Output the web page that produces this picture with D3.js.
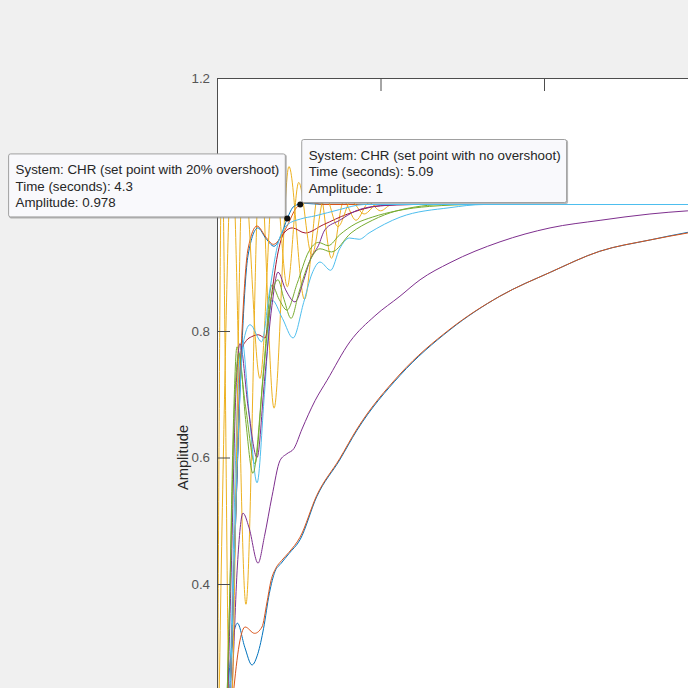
<!DOCTYPE html>
<html>
<head>
<meta charset="utf-8">
<script src="https://cdn.jsdelivr.net/npm/d3@7"></script>
<style>
  html, body { margin: 0; padding: 0; background: #f0f0f0; }
  svg { display: block; font-family: "Liberation Sans", Arial, sans-serif; }
</style>
</head>
<body>
<svg id="chart" width="688" height="688"></svg>
<script>
// ---------------- data (time in seconds, amplitude) ----------------
const yTicks = [0.4, 0.6, 0.8, 1, 1.2];
const xTicks = [0, 10, 20, 30];
const yLabel = "Amplitude";

const blueSlow = [[0,0],[0.35,0.1],[0.67,0.235],[0.95,0.31],[1.25,0.338],[1.7,0.3],[2.14,0.272],[2.5,0.29],[2.85,0.33],[3.2,0.385],[3.55,0.42],[3.9,0.432],[4.4,0.448],[5.08,0.47],[6.1,0.538],[7.5,0.596],[8.56,0.643],[11.2,0.73],[14.25,0.802],[17.3,0.855],[20.4,0.893],[23.4,0.926],[26.5,0.944],[28.8,0.956],[31,0.965]];
const orangeSlow = [[0,0],[0.6,0.1],[1.04,0.237],[1.4,0.31],[1.72,0.332],[2.3,0.322],[2.75,0.332],[3.05,0.37],[3.3,0.405],[3.6,0.425],[3.95,0.437],[4.4,0.45],[5.08,0.474],[6.1,0.54],[7.5,0.598],[8.56,0.645],[11.2,0.732],[14.25,0.803],[17.3,0.855],[20.4,0.893],[23.4,0.926],[26.5,0.944],[28.8,0.955],[31,0.964]];
const yellowA = [[0,0],[0.35,0.55],[0.92,1.07],[1.77,0.368],[2.63,1.07],[3.49,0.678],[4.4,1.06],[5.35,0.85],[6.25,1.025],[7.0,0.915],[7.75,1.005],[8.5,0.975],[9.3,1.003],[10.0,0.99],[10.7,1.0],[12,1.0],[31,1.0]];
const purpleSlow = [[0,0],[0.55,0.08],[0.92,0.235],[1.25,0.43],[1.59,0.512],[1.95,0.49],[2.51,0.433],[2.9,0.475],[3.36,0.538],[3.85,0.595],[4.28,0.606],[4.7,0.614],[5.2,0.645],[6.0,0.69],[6.73,0.722],[8.13,0.783],[9.66,0.824],[11.19,0.855],[12.42,0.881],[14.25,0.908],[17.31,0.941],[20.37,0.963],[23.43,0.975],[26.48,0.985],[28.8,0.99],[31,0.993]];
const greenA = [[0,0],[0.4,0.08],[0.75,0.35],[1.0,0.65],[1.22,0.775],[1.75,0.68],[2.32,0.59],[2.85,0.74],[3.36,0.873],[3.8,0.85],[4.28,0.833],[4.9,0.875],[5.6,0.925],[6.2,0.94],[6.8,0.935],[7.5,0.952],[8.5,0.97],[9.5,0.98],[11,0.99],[13,0.997],[16,1.0],[31,1.0]];
const lightBlueA = [[0,0],[0.45,0.07],[0.85,0.3],[1.2,0.65],[1.53,0.785],[2.0,0.66],[2.45,0.56],[2.9,0.7],[3.36,0.849],[4.0,0.82],[4.65,0.789],[5.3,0.845],[5.8,0.89],[6.3,0.909],[6.95,0.896],[7.5,0.93],[8.1,0.947],[8.7,0.945],[9.3,0.955],[11.2,0.98],[14.25,0.995],[16.3,1.0],[31,1.0]];
const darkRedA = [[0,0],[0.5,0.07],[0.9,0.3],[1.2,0.55],[1.51,0.77],[1.8,0.785],[2.12,0.791],[2.53,0.794],[2.94,0.789],[3.3,0.85],[3.7,0.92],[4.1,0.955],[4.6,0.963],[5.4,0.955],[6.5,0.968],[8,0.985],[10,0.998],[12,1.0],[31,1.0]];
const blueFast = [[0,0],[0.45,0.06],[0.85,0.25],[1.2,0.55],[1.53,0.78],[1.9,0.92],[2.5,0.963],[3.0,0.946],[3.49,0.934],[3.9,0.95],[4.3,0.978],[4.7,0.997],[5.3,1.002],[6.5,1.0],[31,1.0]];
const orangeFast = [[0,0],[0.45,0.06],[0.85,0.26],[1.2,0.57],[1.53,0.8],[1.9,0.93],[2.45,0.966],[3.0,0.948],[3.45,0.937],[3.9,0.948],[4.4,0.972],[4.8,0.993],[5.09,1.0],[5.6,1.004],[6.5,1.0],[31,1.0]];
const yellowB = [[0,0],[0.3,1.07],[0.8,0.15],[1.6,1.07],[2.63,0.725],[3.5,1.06],[4.3,0.87],[5.0,1.035],[5.8,0.92],[6.6,1.015],[7.4,0.965],[8.2,1.005],[9.0,0.985],[9.8,1.0],[11,1.0],[31,1.0]];
const purpleFast = [[0,0],[0.45,0.08],[0.85,0.4],[1.15,0.7],[1.41,0.78],[1.9,0.68],[2.45,0.6],[2.9,0.72],[3.36,0.84],[3.73,0.893],[4.2,0.865],[4.77,0.846],[5.3,0.88],[5.69,0.912],[6.2,0.935],[6.6,0.96],[7.5,0.975],[8.5,0.99],[10,0.998],[12,1.0],[31,1.0]];
const greenB = [[0,0],[0.4,0.07],[0.8,0.4],[1.1,0.7],[1.35,0.765],[1.75,0.66],[2.2,0.575],[2.8,0.72],[3.3,0.85],[3.73,0.881],[4.1,0.85],[4.53,0.82],[5.0,0.86],[5.5,0.9],[6.3,0.93],[7.0,0.925],[8.2,0.955],[9.5,0.975],[11,0.99],[14,1.0],[31,1.0]];
const lightBlueB = [[0,0],[0.5,0.07],[0.9,0.3],[1.25,0.6],[1.6,0.78],[2.02,0.81],[2.73,0.783],[3.2,0.86],[3.7,0.935],[4.3,0.968],[5.1,0.977],[6.0,0.982],[7.5,0.992],[9,1.0],[31,1.0]];

const seriesColors = ["#0072BD","#D95319","#EDB120","#7E2F8E","#77AC30","#4DBEEE","#A2142F"];
const seriesData = [blueSlow, orangeSlow, yellowA, purpleSlow, greenA, lightBlueA, darkRedA,
                    blueFast, orangeFast, yellowB, purpleFast, greenB, lightBlueB];

const tip1Lines = ["System: CHR (set point with 20% overshoot)", "Time (seconds): 4.3", "Amplitude: 0.978"];
const tip1Point = [4.3, 0.978];
const tip2Lines = ["System: CHR (set point with no overshoot)", "Time (seconds): 5.09", "Amplitude: 1"];
const tip2Point = [5.09, 1];

// ---------------- drawing ----------------
const svg = d3.select("#chart");
const plotLeft = 217, plotTop = 78;
const x = d3.scaleLinear().domain([0, 30]).range([plotLeft, plotLeft + 30 * 16.35]);
const y = d3.scaleLinear().domain([0.2, 1.2]).range([plotTop + 632.5, plotTop]);

// axes background
svg.append("rect").attr("x", plotLeft).attr("y", plotTop)
  .attr("width", 688 - plotLeft + 20).attr("height", 688 - plotTop + 20).attr("fill", "#ffffff");

svg.append("clipPath").attr("id", "plotClip")
  .append("rect").attr("x", plotLeft).attr("y", plotTop).attr("width", 600).attr("height", 700);

const line = d3.line().x(d => x(d[0])).y(d => y(d[1])).curve(d3.curveMonotoneX);
const g = svg.append("g").attr("clip-path", "url(#plotClip)");
seriesData.forEach((s, i) => {
  g.append("path").attr("d", line(s)).attr("fill", "none")
    .attr("stroke", seriesColors[i % seriesColors.length]).attr("stroke-width", 1);
});

// axes
const axisColor = "#4d4d4d";
const yAxis = d3.axisLeft(y).tickValues(yTicks).tickFormat(d3.format("~g"))
  .tickSizeInner(-13).tickSizeOuter(0).tickPadding(7);
const yg = svg.append("g").attr("transform", `translate(${plotLeft},0)`).call(yAxis);
const xAxis = d3.axisTop(x).tickValues(xTicks).tickFormat("")
  .tickSizeInner(-13).tickSizeOuter(0);
const xg = svg.append("g").attr("transform", `translate(0,${plotTop})`).call(xAxis);
[yg, xg].forEach(a => {
  a.select(".domain").attr("stroke", axisColor).attr("stroke-width", 1);
  a.selectAll(".tick line").attr("stroke", axisColor).attr("stroke-width", 1);
  a.selectAll(".tick text").attr("fill", "#555555")
    .style("font-size", "13.33px").style("font-family", "'Liberation Sans', Arial, sans-serif");
});
// extend left axis line to the bottom edge of the view
svg.append("line").attr("x1", plotLeft + 0.5).attr("x2", plotLeft + 0.5)
  .attr("y1", y(0.4)).attr("y2", 700).attr("stroke", axisColor).attr("stroke-width", 1);

svg.append("text").attr("transform", `translate(188,${y(0.6)}) rotate(-90)`)
  .attr("text-anchor", "middle").attr("fill", "#262626")
  .style("font-size", "14.67px").text(yLabel);

// data tips
function dataTip(lines, pt, anchor) {
  const px = x(pt[0]), py = y(pt[1]);
  const tg = svg.append("g");
  const tmp = tg.append("text").style("font-size", "13.33px").text(lines[0]);
  const w = tmp.node().getComputedTextLength() + 14;
  tmp.remove();
  const h = 64;
  let bx, by;
  if (anchor === "bottom-right") { bx = px - 1.5 - w; by = py - 1 - h; }
  else { bx = px + 1; by = py - 1.5 - h; }
  tg.append("rect").attr("x", bx + 1).attr("y", by + 1).attr("width", w).attr("height", h)
    .attr("rx", 2).attr("fill", "#8a8a8a").attr("opacity", 0.6);
  tg.append("rect").attr("x", bx + 0.5).attr("y", by + 0.5).attr("width", w - 1).attr("height", h - 1)
    .attr("rx", 2).attr("fill", "#f9f9fc").attr("stroke", "#a0a0a0").attr("stroke-width", 1);
  lines.forEach((s, i) => {
    tg.append("text").attr("x", bx + 7.5).attr("y", by + 21 + i * 16.3)
      .attr("fill", "#262626").style("font-size", "13.33px").text(s);
  });
  svg.append("circle").attr("cx", px).attr("cy", py).attr("r", 3).attr("fill", "#111");
}
dataTip(tip1Lines, tip1Point, "bottom-right");
dataTip(tip2Lines, tip2Point, "bottom-left");
</script>
</body>
</html>
